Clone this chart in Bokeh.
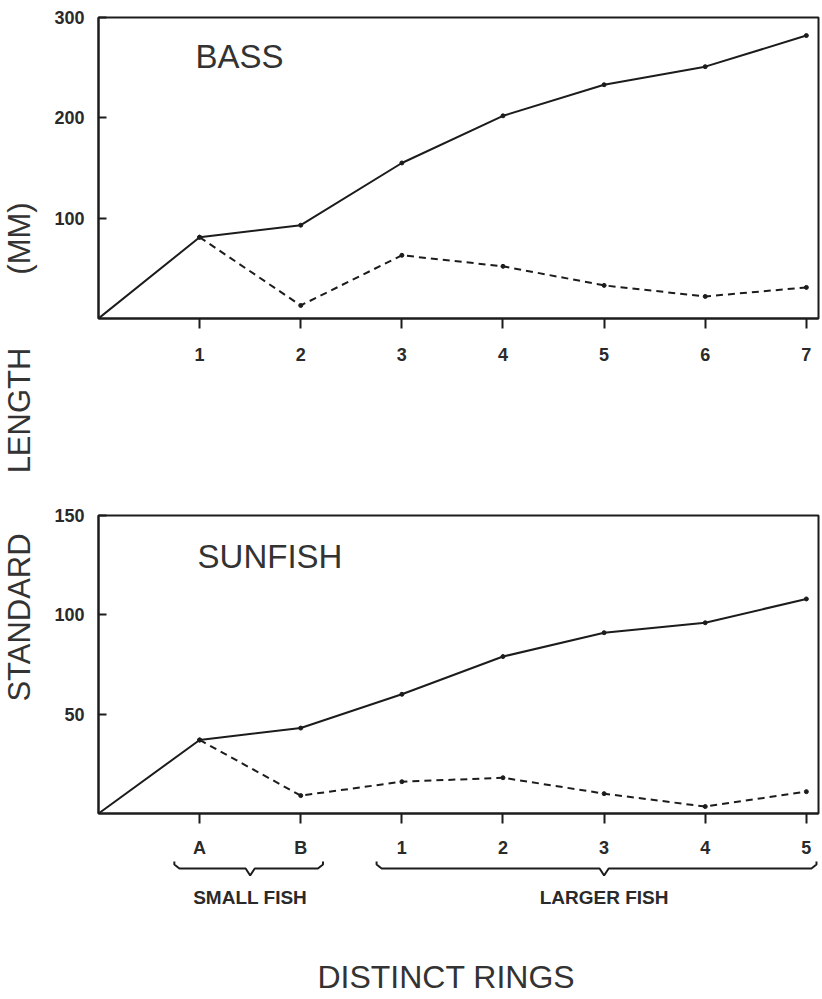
import math
from bokeh.plotting import figure
from bokeh.layouts import column, row
from bokeh.models import Range1d, FixedTicker, Label
from bokeh.core.properties import value
from bokeh.embed import file_html
from bokeh.resources import INLINE

# ---------------- data ----------------
ring_pos = [0, 1, 2, 3, 4, 5, 6, 7]
bass_tick_labels = ["1", "2", "3", "4", "5", "6", "7"]
bass_length = [0, 81, 93, 155, 202, 233, 251, 282]
bass_increment = [81, 13, 63, 52, 33, 22, 31]
bass_yticks = [100, 200, 300]

sun_tick_labels = ["A", "B", "1", "2", "3", "4", "5"]
sun_length = [0, 37, 43, 60, 79, 91, 96, 108]
sun_increment = [37, 9, 16, 18, 10, 3.5, 11]
sun_yticks = [50, 100, 150]

groups = [("SMALL FISH", 1, 2), ("LARGER FISH", 3, 7)]
y_title_words = ["(MM)", "LENGTH", "STANDARD"]

# ---------------- styling / layout constants ----------------
INK = "#1c1c1c"
TXT = "#333333"
LEFT_W = 40          # width of the strip holding the y title
W = 780              # width of the chart column
TOTAL_H = 997
X_END = 7.12
FONT = "Liberation Sans"


def make_fig(height, ymax, yticks, xlabels, top, bottom, x_standoff):
    p = figure(width=W, height=height, x_range=Range1d(0, X_END),
               y_range=Range1d(0, ymax), output_backend="svg",
               toolbar_location=None, min_border_left=58,
               min_border_right=2, min_border_top=top,
               min_border_bottom=bottom)
    p.grid.visible = False
    p.outline_line_color = INK
    p.outline_line_width = 2
    p.outline_line_alpha = 1

    xa = p.xaxis[0]
    xa.ticker = FixedTicker(ticks=ring_pos[1:])
    xa.major_label_overrides = {pos: lab for pos, lab in zip(ring_pos[1:], xlabels)}
    xa.major_tick_in = 0
    xa.major_tick_out = 10
    xa.minor_tick_line_color = None
    xa.major_label_standoff = x_standoff

    ya = p.yaxis[0]
    ya.ticker = FixedTicker(ticks=yticks)
    ya.major_tick_in = 8
    ya.major_tick_out = 0
    ya.minor_tick_line_color = None
    ya.major_label_standoff = 14

    for ax in (xa, ya):
        ax.axis_line_color = INK
        ax.axis_line_width = 2
        ax.major_tick_line_color = INK
        ax.major_tick_line_width = 2
        ax.major_label_text_font = FONT
        ax.major_label_text_font_style = "bold"
        ax.major_label_text_font_size = "18px"
        ax.major_label_text_color = "#2a2a2a"
    return p


def draw_series(p, length, increment):
    p.line(ring_pos, length, line_color=INK, line_width=2)
    p.line(ring_pos[1:], increment, line_color=INK, line_width=2, line_dash="7 5")
    p.scatter(ring_pos[1:], length[1:], size=4, color=INK)
    p.scatter(ring_pos[1:], increment, size=4, color=INK)


def blank_fig(width, height, x_range, y_range, left=0):
    p = figure(width=width, height=height, x_range=x_range, y_range=y_range,
               output_backend="svg", toolbar_location=None,
               x_axis_location=None, y_axis_location=None,
               min_border_left=left, min_border_right=2 if left else 0,
               min_border_top=0, min_border_bottom=0)
    p.grid.visible = False
    p.outline_line_color = None
    return p


def panel_title(p, x, y, text):
    p.add_layout(Label(x=x, y=y, text=text, text_font=FONT,
                       text_baseline="alphabetic",
                       text_font_size="33px", text_color=TXT))


# ---------------- top: BASS (canvas 0..500) ----------------
p1 = make_fig(500, 300, bass_yticks, bass_tick_labels, 17, 182, 19)
draw_series(p1, bass_length, bass_increment)
panel_title(p1, 0.96, 261, "BASS")

# ---------------- bottom: SUNFISH (canvas 500..860) ----------------
p2 = make_fig(360, 150, sun_yticks, sun_tick_labels, 15, 44, 14)
p2.x_range = p1.x_range
draw_series(p2, sun_length, sun_increment)
panel_title(p2, 0.98, 129.6, "SUNFISH")

# ---------------- group brackets + x title (canvas 860..997) ----------------
H3 = TOTAL_H - 860
p3 = blank_fig(W, H3, p1.x_range, Range1d(H3, 0), left=58)
LINE_Y, CURL_Y, TIP_Y, GROUP_LABEL_Y, X_TITLE_Y = 8, 1, 15, 37, 116
CX, CY, TW = 0.05, 4, 0.045
bx, by = [], []
for name, first, last in groups:
    x0 = first - 0.25
    x1 = min(last + 0.22, X_END - 0.02)
    mid = (first + last) / 2
    bx.append([x0, x0, x0 + CX, mid - TW, mid, mid + TW, x1 - CX, x1, x1])
    by.append([CURL_Y, LINE_Y - CY, LINE_Y, LINE_Y, TIP_Y, LINE_Y, LINE_Y,
               LINE_Y - CY, CURL_Y])
p3.multi_line(bx, by, line_color=INK, line_width=2)
p3.text(x=[(f + l) / 2 for _, f, l in groups], y=[GROUP_LABEL_Y] * len(groups),
        text=[g[0] for g in groups], text_align="center", text_baseline="middle",
        text_font=value(FONT), text_font_style="bold", text_font_size="19px",
        text_color="#2a2a2a")
p3.text(x=[3.44], y=[X_TITLE_Y], text=["DISTINCT RINGS"], text_align="center",
        text_baseline="middle", text_font=value(FONT), text_font_size="32px",
        text_color=TXT)

# ---------------- y title strip ----------------
py = blank_fig(LEFT_W, TOTAL_H, Range1d(0, LEFT_W), Range1d(TOTAL_H, 0))
py.text(x=[19] * 3, y=[238, 410, 617], text=y_title_words, angle=math.pi / 2,
        text_align="center", text_baseline="middle", text_font=value(FONT),
        text_font_size="31px", text_color=TXT)

layout = row(py, column(p1, p2, p3, spacing=0), spacing=0)
open("out.html", "w").write(file_html(layout, INLINE))
